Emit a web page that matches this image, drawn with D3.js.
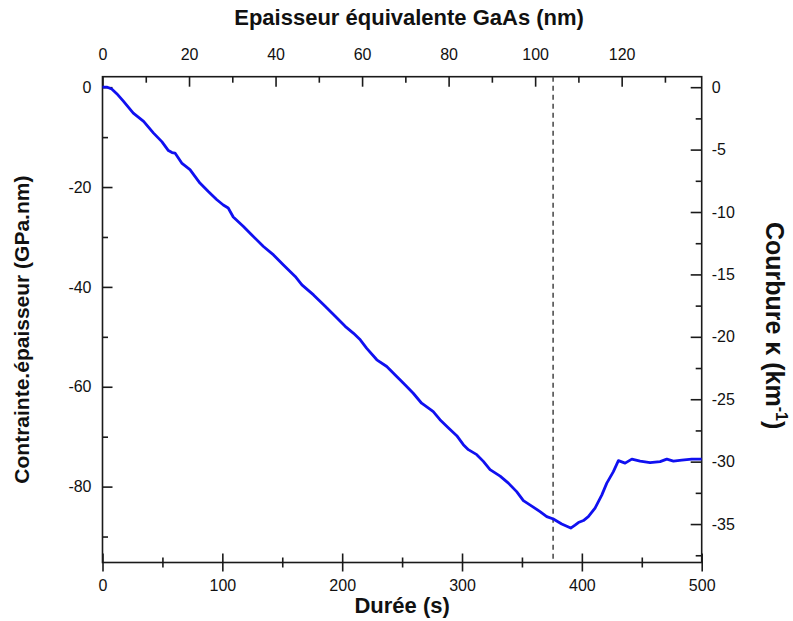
<!DOCTYPE html>
<html>
<head>
<meta charset="utf-8">
<script src="https://cdn.jsdelivr.net/npm/d3@7"></script>
<style>
  body { margin: 0; background: #fff; }
  svg { display: block; }
  text { font-family: "Liberation Sans", Arial, sans-serif; fill: #111; }
</style>
</head>
<body>
<svg id="chart" width="793" height="621"></svg>
<script>
// Stress-thickness product recorded during GaAs growth
const timeS = [0, 4, 7.7, 11.9, 17.4, 25.7, 34.3, 42.6, 49.5, 55, 58, 60.5, 66.1, 73, 81.3, 88.3,
  95.2, 100.8, 104.9, 109.1, 117.6, 124.6, 134.3, 142.7, 151, 160.8, 166.4, 176.1, 185.8, 194.2,
  202.5, 209.5, 215.1, 220.5, 228.9, 237.2, 245.5, 252.4, 259.3, 266.3, 273.2, 276, 281.6, 288.5,
  295.6, 301.1, 305.3, 312.3, 317.8, 323.4, 331.8, 338.7, 345.6, 351.2, 358.2, 365.1, 370.7,
  376.2, 383.2, 390.7, 394.3, 397.1, 401.3, 405.4, 411, 416.6, 420.8, 426.3, 430.5, 436.1, 441.7,
  448.6, 456.9, 465.3, 470.9, 476.4, 483.4, 491.7, 500];
const stressThickness = [0, 0, -0.36, -1.3, -2.8, -5.2, -6.85, -9.2, -10.9, -12.7, -13.1, -13.2,
  -15.2, -16.5, -19.2, -20.9, -22.5, -23.6, -24.2, -26.0, -27.9, -29.6, -31.9, -33.6, -35.6, -37.9,
  -39.6, -41.6, -43.9, -45.9, -47.9, -49.3, -50.6, -52.3, -54.6, -55.95, -57.95, -59.6, -61.3,
  -63.3, -64.5, -65.0, -66.6, -68.2, -69.8, -71.6, -72.6, -73.6, -74.95, -76.6, -77.9, -79.3,
  -81.0, -82.8, -83.9, -85.0, -86.0, -86.5, -87.5, -88.3, -87.7, -87.2, -86.8, -86.0, -84.3,
  -81.7, -79.3, -77.0, -74.8, -75.3, -74.5, -74.9, -75.2, -75.0, -74.5, -74.9, -74.7, -74.5, -74.5];

// End of deposition marker (s)
const markerTime = [376];

// Axis ranges and ticks
const timeRange = [0, 500];
const stressRange = [-95.2, 2.1];
const nmPerSecond = 0.277;          // growth rate, equivalent GaAs thickness
const stressPerCurvature = 2.5;     // GPa.nm per km^-1
const timeTicks = [0, 100, 200, 300, 400, 500];
const timeMinor = [50, 150, 250, 350, 450];
const thicknessTicks = [0, 20, 40, 60, 80, 100, 120];
const thicknessMinor = [10, 30, 50, 70, 90, 110, 130];
const stressTicks = [0, -20, -40, -60, -80];
const stressMinor = [-10, -30, -50, -70, -90];
const curvatureTicks = [0, -5, -10, -15, -20, -25, -30, -35];
const curvatureMinor = [-2.5, -7.5, -12.5, -17.5, -22.5, -27.5, -32.5, -37.5];

const svg = d3.select("#chart");
const plotLeft = 102.5, plotRight = 701.7, plotTop = 76.7, plotBottom = 562.5;

const x = d3.scaleLinear().domain(timeRange).range([plotLeft, plotRight]);
const xTop = d3.scaleLinear().domain(timeRange.map(d => d * nmPerSecond)).range([plotLeft, plotRight]);
const y = d3.scaleLinear().domain(stressRange).range([plotBottom, plotTop]);
const yRight = d3.scaleLinear().domain(stressRange.map(d => d / stressPerCurvature)).range([plotBottom, plotTop]);

const axisColor = "#1a1a1a";
const fontSize = 16;
const plainNumber = d => String(d);   // hyphen-minus, as in the original labels

function styleAxis(g) {
  g.select(".domain").remove();
  g.selectAll("line").attr("stroke", axisColor).attr("stroke-width", 1.6);
  g.selectAll("text").attr("font-size", fontSize).attr("fill", "#111");
}

// bottom axis: ticks cross the axis line
const gb = svg.append("g").attr("transform", `translate(0,${plotBottom})`)
  .call(d3.axisBottom(x).tickValues(timeTicks).tickSize(9).tickPadding(8).tickFormat(plainNumber));
gb.selectAll(".tick line").attr("y1", -9);
styleAxis(gb);
const gbm = svg.append("g").attr("transform", `translate(0,${plotBottom})`)
  .call(d3.axisBottom(x).tickValues(timeMinor).tickSize(5).tickFormat(""));
gbm.selectAll(".tick line").attr("y1", -5);
styleAxis(gbm);

// top axis: equivalent thickness
const gt = svg.append("g").attr("transform", `translate(0,${plotTop})`)
  .call(d3.axisTop(xTop).tickValues(thicknessTicks).tickSize(-10).tickPadding(17).tickFormat(plainNumber));
styleAxis(gt);
const gtm = svg.append("g").attr("transform", `translate(0,${plotTop})`)
  .call(d3.axisTop(xTop).tickValues(thicknessMinor).tickSize(-6).tickFormat(""));
styleAxis(gtm);

// left axis: stress-thickness
const gl = svg.append("g").attr("transform", `translate(${plotLeft},0)`)
  .call(d3.axisLeft(y).tickValues(stressTicks).tickSize(-10).tickPadding(11).tickFormat(plainNumber));
styleAxis(gl);
const glm = svg.append("g").attr("transform", `translate(${plotLeft},0)`)
  .call(d3.axisLeft(y).tickValues(stressMinor).tickSize(-5.5).tickFormat(""));
styleAxis(glm);

// right axis: curvature
const gr = svg.append("g").attr("transform", `translate(${plotRight},0)`)
  .call(d3.axisRight(yRight).tickValues(curvatureTicks).tickSize(-11).tickPadding(10).tickFormat(plainNumber));
styleAxis(gr);
const grm = svg.append("g").attr("transform", `translate(${plotRight},0)`)
  .call(d3.axisRight(yRight).tickValues(curvatureMinor).tickSize(-6).tickFormat(""));
styleAxis(grm);

// frame
svg.append("rect")
  .attr("x", plotLeft).attr("y", plotTop)
  .attr("width", plotRight - plotLeft).attr("height", plotBottom - plotTop)
  .attr("fill", "none").attr("stroke", axisColor).attr("stroke-width", 1.6);

// dashed marker
svg.selectAll(".marker").data(markerTime).join("line")
  .attr("class", "marker")
  .attr("x1", d => x(d)).attr("x2", d => x(d))
  .attr("y1", plotTop).attr("y2", plotBottom)
  .attr("stroke", "#444").attr("stroke-width", 1.5)
  .attr("stroke-dasharray", "5,4");

// data curve
const pts = timeS.map((t, i) => [t, stressThickness[i]]);
svg.append("path")
  .datum(pts)
  .attr("fill", "none")
  .attr("stroke", "#1010f0")
  .attr("stroke-width", 2.8)
  .attr("stroke-linejoin", "round")
  .attr("d", d3.line().x(d => x(d[0])).y(d => y(d[1])));

// axis titles
svg.append("text")
  .attr("x", (plotLeft + plotRight) / 2 + 7).attr("y", 25)
  .attr("text-anchor", "middle").attr("font-weight", "bold").attr("font-size", 22)
  .text("Epaisseur équivalente GaAs (nm)");

svg.append("text")
  .attr("x", (plotLeft + plotRight) / 2).attr("y", 613)
  .attr("text-anchor", "middle").attr("font-weight", "bold").attr("font-size", 22)
  .text("Durée (s)");

svg.append("text")
  .attr("transform", `translate(29,${(plotTop + plotBottom) / 2 + 10}) rotate(-90)`)
  .attr("text-anchor", "middle").attr("font-weight", "bold").attr("font-size", 21)
  .text("Contrainte.épaisseur (GPa.nm)");

const rt = svg.append("text")
  .attr("transform", `translate(766,${(plotTop + plotBottom) / 2 + 6}) rotate(90)`)
  .attr("text-anchor", "middle").attr("font-weight", "bold").attr("font-size", 25);
rt.append("tspan").text("Courbure κ (km");
rt.append("tspan").attr("font-size", 16).attr("dy", -10).text("-1");
rt.append("tspan").attr("dy", 10).text(")");
</script>
</body>
</html>
